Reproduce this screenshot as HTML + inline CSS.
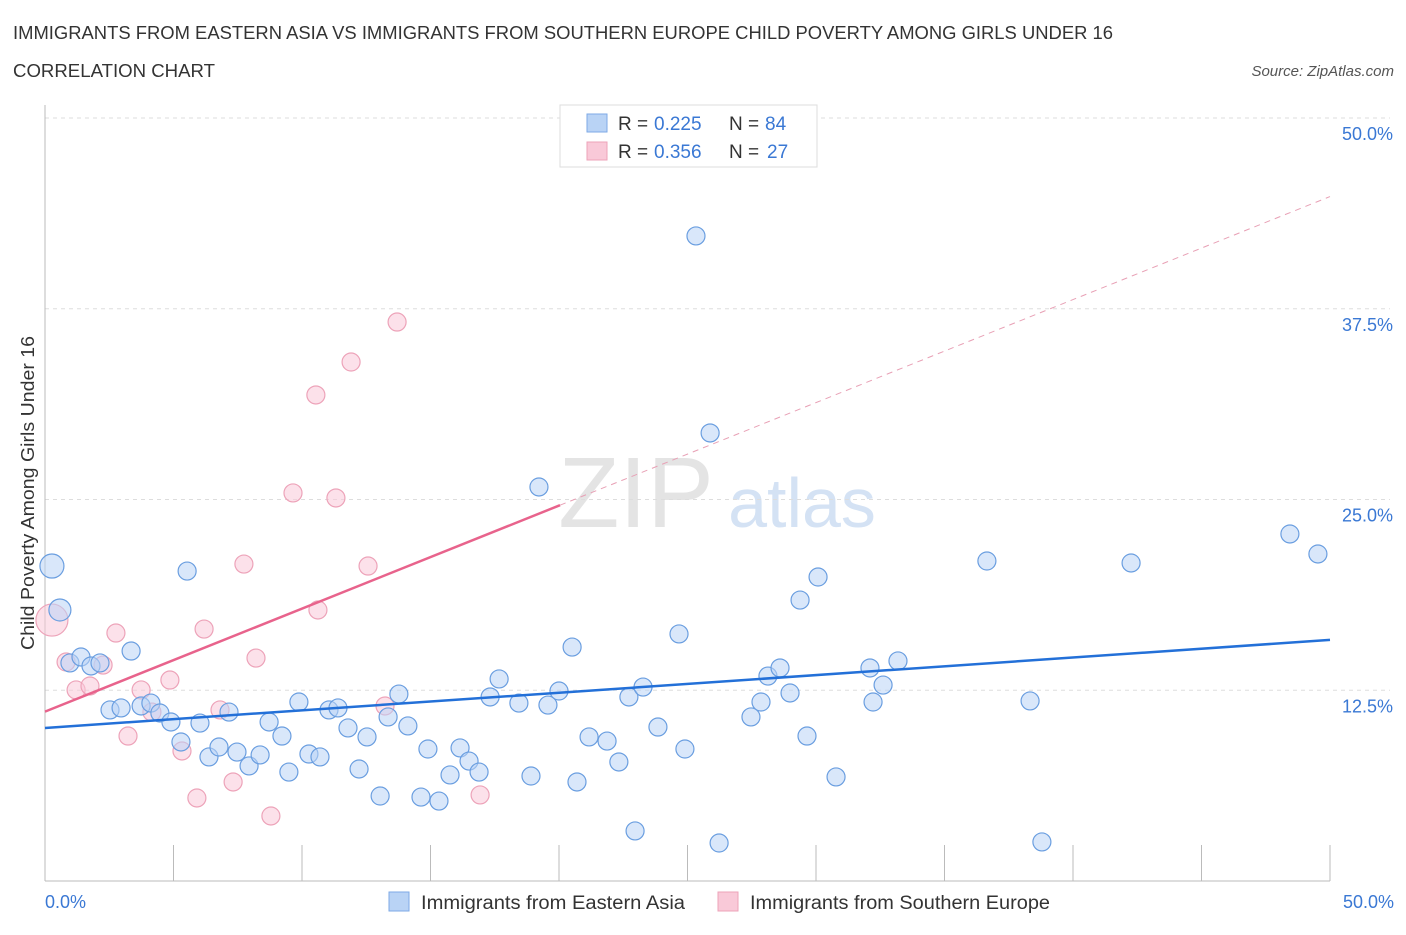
<!DOCTYPE html>
<html><head><meta charset="utf-8"><style>
body{margin:0;background:#fff;font-family:"Liberation Sans",sans-serif;}
svg text{font-family:"Liberation Sans",sans-serif;}
</style></head><body>
<svg id="chart" width="1406" height="930" xmlns="http://www.w3.org/2000/svg">
<text x="13" y="39" font-size="18" fill="#333" textLength="1100" lengthAdjust="spacingAndGlyphs">IMMIGRANTS FROM EASTERN ASIA VS IMMIGRANTS FROM SOUTHERN EUROPE CHILD POVERTY AMONG GIRLS UNDER 16</text>
<text x="13" y="77" font-size="18" fill="#333" textLength="202" lengthAdjust="spacingAndGlyphs">CORRELATION CHART</text>
<text x="1394" y="76" font-size="15" font-style="italic" fill="#555" text-anchor="end">Source: ZipAtlas.com</text>
<g>
<text x="636" y="527" font-size="100" font-family="Liberation Serif" fill="#e4e4e4" text-anchor="middle">ZIP</text>
<text x="802" y="527" font-size="70" fill="#d4e2f4" text-anchor="middle">atlas</text>
</g>
<g id="grid"></g>
<g id="axes"></g>
<g id="marks"></g>
<text transform="translate(34,493) rotate(-90)" font-size="18" fill="#333" text-anchor="middle" textLength="314" lengthAdjust="spacingAndGlyphs">Child Poverty Among Girls Under 16</text>
<g>
<rect x="560" y="105" width="257" height="62" fill="#fff" stroke="#ddd"/>
<rect x="587" y="114" width="20" height="18" fill="#b9d3f5" stroke="#7eaae6"/>
<rect x="587" y="142" width="20" height="18" fill="#f9c9d8" stroke="#eda3b9"/>
<text x="618" y="130" font-size="19" fill="#333">R =</text>
<text x="654" y="130" font-size="19" fill="#3a78d4">0.225</text>
<text x="729" y="130" font-size="19" fill="#333">N =</text>
<text x="765" y="130" font-size="19" fill="#3a78d4">84</text>
<text x="618" y="158" font-size="19" fill="#333">R =</text>
<text x="654" y="158" font-size="19" fill="#3a78d4">0.356</text>
<text x="729" y="158" font-size="19" fill="#333">N =</text>
<text x="767" y="158" font-size="19" fill="#3a78d4">27</text>
</g>
<g>
<rect x="389" y="892" width="20" height="19" fill="#b9d3f5" stroke="#7eaae6"/>
<text x="421" y="909" font-size="19" fill="#333" textLength="264" lengthAdjust="spacingAndGlyphs">Immigrants from Eastern Asia</text>
<rect x="718" y="892" width="20" height="19" fill="#f9c9d8" stroke="#eda3b9"/>
<text x="750" y="909" font-size="19" fill="#333" textLength="300" lengthAdjust="spacingAndGlyphs">Immigrants from Southern Europe</text>
</g>
</svg>
<script>
const blueX=[0.27,0.58,0.97,1.40,1.79,2.14,2.53,2.96,3.35,3.74,4.12,4.47,4.90,5.29,5.53,6.03,6.38,6.77,7.16,7.47,7.94,8.37,8.72,9.22,9.49,9.88,10.27,10.70,11.05,11.40,11.79,12.22,12.53,13.04,13.35,13.77,14.12,14.63,14.90,15.33,15.76,16.15,16.50,16.89,17.32,17.67,18.44,18.91,19.22,19.57,20.00,20.51,20.70,21.17,21.87,22.33,22.72,22.96,23.27,23.85,24.67,24.90,25.33,25.88,26.23,27.47,27.86,28.13,28.60,28.99,29.38,29.65,30.08,30.78,32.10,32.22,32.61,33.19,36.65,38.33,38.79,42.26,48.44,49.53];
const blueY=[20.64,17.76,14.29,14.68,14.09,14.29,11.21,11.34,15.07,11.47,11.66,11.01,10.42,9.11,20.31,10.35,8.13,8.78,11.07,8.45,7.54,8.26,10.42,9.50,7.14,11.73,8.32,8.13,11.21,11.34,10.03,7.34,9.44,5.57,10.75,12.25,10.16,5.50,8.65,5.24,6.95,8.72,7.86,7.14,12.06,13.24,11.66,6.88,25.82,11.53,12.45,15.33,6.49,9.44,9.17,7.80,12.06,3.28,12.71,10.09,16.19,8.65,42.27,29.36,2.49,10.75,11.73,13.43,13.96,12.32,18.41,9.50,19.92,6.82,13.96,11.73,12.84,14.42,20.97,11.80,2.56,20.84,22.74,21.43];
const pinkX=[0.27,0.82,1.21,1.75,2.26,2.76,3.23,3.74,4.16,4.86,5.33,5.91,6.19,6.81,7.32,7.74,8.21,8.79,9.65,10.54,10.62,11.32,11.91,12.57,13.23,13.70,16.93];
const pinkY=[17.10,14.35,12.52,12.78,14.15,16.25,9.50,12.52,11.07,13.17,8.52,5.44,16.51,11.21,6.49,20.77,14.61,4.26,25.43,31.85,17.76,25.10,34.01,20.64,11.47,36.63,5.64];
const blueTrend=[10.03,15.8]; // y at x=0 and x=50
const pinkTrend=[11.1,44.85];
const pinkSolidEnd=20.04;
const yTicks=[12.5,25,37.5,50];
const xTickVals=[0,5,10,15,20,25,30,35,40,45,50];
const NS='http://www.w3.org/2000/svg';
const X=v=>45+v/50*1285, Y=v=>881-v/50*763;
function mk(t,a,p){const e=document.createElementNS(NS,t);for(const k in a)e.setAttribute(k,a[k]);p.appendChild(e);return e;}
const grid=document.getElementById('grid'),axes=document.getElementById('axes'),marks=document.getElementById('marks');
yTicks.forEach(v=>{
 const l=mk('line',{x1:45,x2:1390,y1:Y(v),y2:Y(v),stroke:'#ddd','stroke-dasharray':'4,4'},grid);
 
 
 const t=mk('text',{x:1393,y:Y(v)+22,'font-size':18,fill:'#3a78d4','text-anchor':'end'},axes);
 t.textContent=v.toFixed(1)+'%';
 
 
});
const ya=mk('line',{x1:45,x2:45,y1:105,y2:881,stroke:'#bbb'},axes);


const xa=mk('line',{x1:45,x2:1330,y1:881,y2:881,stroke:'#bbb'},axes);


xTickVals.forEach(v=>{
 const l=mk('line',{x1:X(v),x2:X(v),y1:845,y2:881,stroke:'#bbb'},axes);
 
 
});
[[0,'start',45],[50,'end',1394]].forEach(([v,a,x])=>{
 const t=mk('text',{x:x,y:908,'font-size':18,fill:'#3a78d4','text-anchor':a},axes);
 t.textContent=v.toFixed(1)+'%';
 
 
});
function dots(xs,ys,fill,stroke,name,big){
 xs.forEach((x,i)=>{
  const r=big[i]||9;
  const c=mk('circle',{cx:X(x),cy:Y(ys[i]),r:r,fill:fill,'fill-opacity':0.55,stroke:stroke,'stroke-width':1.2},marks);
  
  
 });
}
dots(pinkX,pinkY,'#f9c9d8','#eda3b9','southern-europe-point',{0:16});
dots(blueX,blueY,'#b9d3f5','#6a9ee0','eastern-asia-point',{0:12,1:11});
const bl=mk('line',{x1:X(0),y1:Y(blueTrend[0]),x2:X(50),y2:Y(blueTrend[1]),stroke:'#2370d8','stroke-width':2.5},marks);


const pm=pinkTrend[0]+(pinkTrend[1]-pinkTrend[0])*pinkSolidEnd/50;
const pl=mk('line',{x1:X(0),y1:Y(pinkTrend[0]),x2:X(pinkSolidEnd),y2:Y(pm),stroke:'#e8638c','stroke-width':2.5},marks);


const pd=mk('line',{x1:X(pinkSolidEnd),y1:Y(pm),x2:X(50),y2:Y(pinkTrend[1]),stroke:'#e8a0b5','stroke-width':1,'stroke-dasharray':'6,5'},marks);


</script>
</body></html>
